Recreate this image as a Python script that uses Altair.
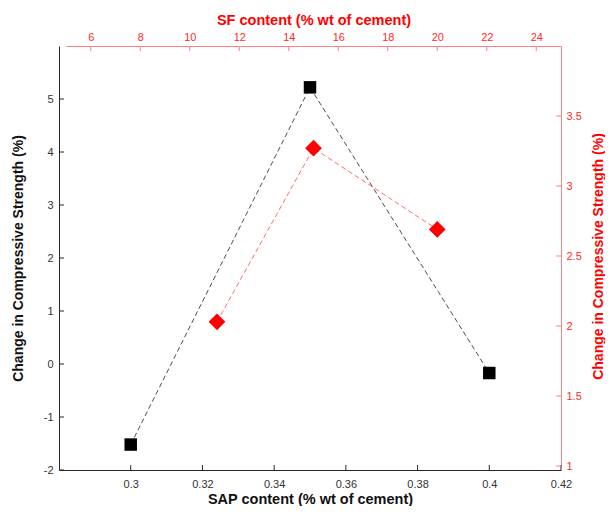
import altair as alt
import pandas as pd

# ---- data ----
sap_content = [0.30, 0.35, 0.40]
sap_change = [-1.52, 5.22, -0.17]
sf_content = [11.1, 15.0, 20.0]
sf_change = [2.03, 3.27, 2.69]

sap_ticks = [0.3, 0.32, 0.34, 0.36, 0.38, 0.4, 0.42]
left_ticks = [-2, -1, 0, 1, 2, 3, 4, 5]
sf_ticks = [6, 8, 10, 12, 14, 16, 18, 20, 22, 24]
right_ticks = [1, 1.5, 2, 2.5, 3, 3.5]

W, H = 502, 424
FONT = "Liberation Sans"
BLACK = "#262626"
RED_TXT = "#ff2a2a"
RED_TITLE = "#ff0000"
RED_AX = "#ff8080"
YTITLE = "Change in Compressive Strength (%)"

black_df = pd.DataFrame({"sap": sap_content, "chg": sap_change})
red_df = pd.DataFrame({"sf": sf_content, "chg2": sf_change})


def x_b():
    return alt.Scale(domain=[0.28, 0.42], range=[0, W], nice=False, zero=False)


def y_b():
    return alt.Scale(domain=[-2, 6], range=[H, 0], nice=False, zero=False)


def x_r():
    return alt.Scale(domain=[5, 25], range=[7, W], nice=False, zero=False)


def y_r():
    return alt.Scale(domain=[1, 4], range=[H - 4, 0], nice=False, zero=False)


common = dict(grid=False, ticks=False, labelFont=FONT, labelFontSize=11,
              titleFont=FONT, titleFontWeight="bold",
              labelFlush=False, labelOverlap=False, labelExpr="'' + datum.value",
              domainWidth=1)

ax_bottom = alt.Axis(orient="bottom", values=sap_ticks, title="SAP content (% wt of cement)",
                     domainColor=BLACK, labelColor="#333333", titleColor="#111111",
                     titleFontSize=14.5,
                     labelPadding=8, titleX=W / 2, titleY=29, titleAngle=0,
                     titleAlign="center", titleBaseline="middle", **common)
ax_left = alt.Axis(orient="left", values=left_ticks, title=YTITLE,
                   domainColor=BLACK, labelColor="#333333", titleColor="#111111",
                   titleFontSize=14,
                   labelPadding=6, titleX=-41, titleY=H / 2, titleAngle=270,
                   titleAlign="center", titleBaseline="middle", **common)
ax_top = alt.Axis(orient="top", values=sf_ticks, title="SF content (% wt of cement)",
                  domainColor=RED_AX, labelColor=RED_TXT, titleColor=RED_TITLE,
                  titleFontSize=14.5,
                  labelPadding=4, titleX=(7 + W) / 2, titleY=-26, titleAngle=0,
                  titleAlign="center", titleBaseline="middle", **common)
ax_right = alt.Axis(orient="right", values=right_ticks, title=YTITLE,
                    domainColor=RED_AX, labelColor=RED_TXT, titleColor=RED_TITLE,
                    titleFontSize=14,
                    labelPadding=5, titleX=37, titleY=(H - 4) / 2, titleAngle=270,
                    titleAlign="center", titleBaseline="middle", **common)

# ---- black series (SAP) ----
black_line = alt.Chart(black_df).mark_line(color="#4d4d4d", strokeDash=[5, 3], strokeWidth=1).encode(
    x=alt.X("sap:Q", scale=x_b(), axis=ax_bottom),
    y=alt.Y("chg:Q", scale=y_b(), axis=ax_left),
)
black_pts = alt.Chart(black_df).mark_point(shape="square", filled=True, size=156,
                                           color="#000000", opacity=1).encode(
    x=alt.X("sap:Q", scale=x_b(), axis=None),
    y=alt.Y("chg:Q", scale=y_b(), axis=None),
)
bottom_tick_marks = alt.Chart(pd.DataFrame({"v": sap_ticks})).mark_rule(color=BLACK, strokeWidth=1).encode(
    x=alt.X("v:Q", scale=x_b(), axis=None), y=alt.value(H), y2=alt.value(H - 5),
)
left_tick_marks = alt.Chart(pd.DataFrame({"v": left_ticks})).mark_rule(color=BLACK, strokeWidth=1).encode(
    y=alt.Y("v:Q", scale=y_b(), axis=None), x=alt.value(0), x2=alt.value(5),
)

# ---- red series (SF) ----
red_line = alt.Chart(red_df).mark_line(color="#ff6f6f", strokeDash=[5, 3], strokeWidth=1).encode(
    x=alt.X("sf:Q", scale=x_r(), axis=ax_top),
    y=alt.Y("chg2:Q", scale=y_r(), axis=ax_right),
)
red_pts = alt.Chart(red_df).mark_point(shape="diamond", filled=True, size=280,
                                       color="#ff0000", opacity=1).encode(
    x=alt.X("sf:Q", scale=x_r(), axis=None),
    y=alt.Y("chg2:Q", scale=y_r(), axis=None),
)
top_tick_marks = alt.Chart(pd.DataFrame({"v": sf_ticks})).mark_rule(color=RED_AX, strokeWidth=1).encode(
    x=alt.X("v:Q", scale=x_r(), axis=None), y=alt.value(0), y2=alt.value(5),
)
right_tick_marks = alt.Chart(pd.DataFrame({"v": right_ticks})).mark_rule(color=RED_AX, strokeWidth=1).encode(
    y=alt.Y("v:Q", scale=y_r(), axis=None), x=alt.value(W), x2=alt.value(W - 5),
)

chart = (
    alt.layer(black_line, bottom_tick_marks, left_tick_marks,
              red_line, top_tick_marks, right_tick_marks,
              black_pts, red_pts)
    .resolve_scale(x="independent", y="independent")
    .properties(width=W, height=H, autosize=alt.AutoSizeParams(type="none"),
                padding={"left": 51, "top": 38, "right": 44, "bottom": 36},
                background="white")
    .configure_view(stroke=None)
)

chart.save("out.html", embed_options={"renderer": "svg", "actions": False})
